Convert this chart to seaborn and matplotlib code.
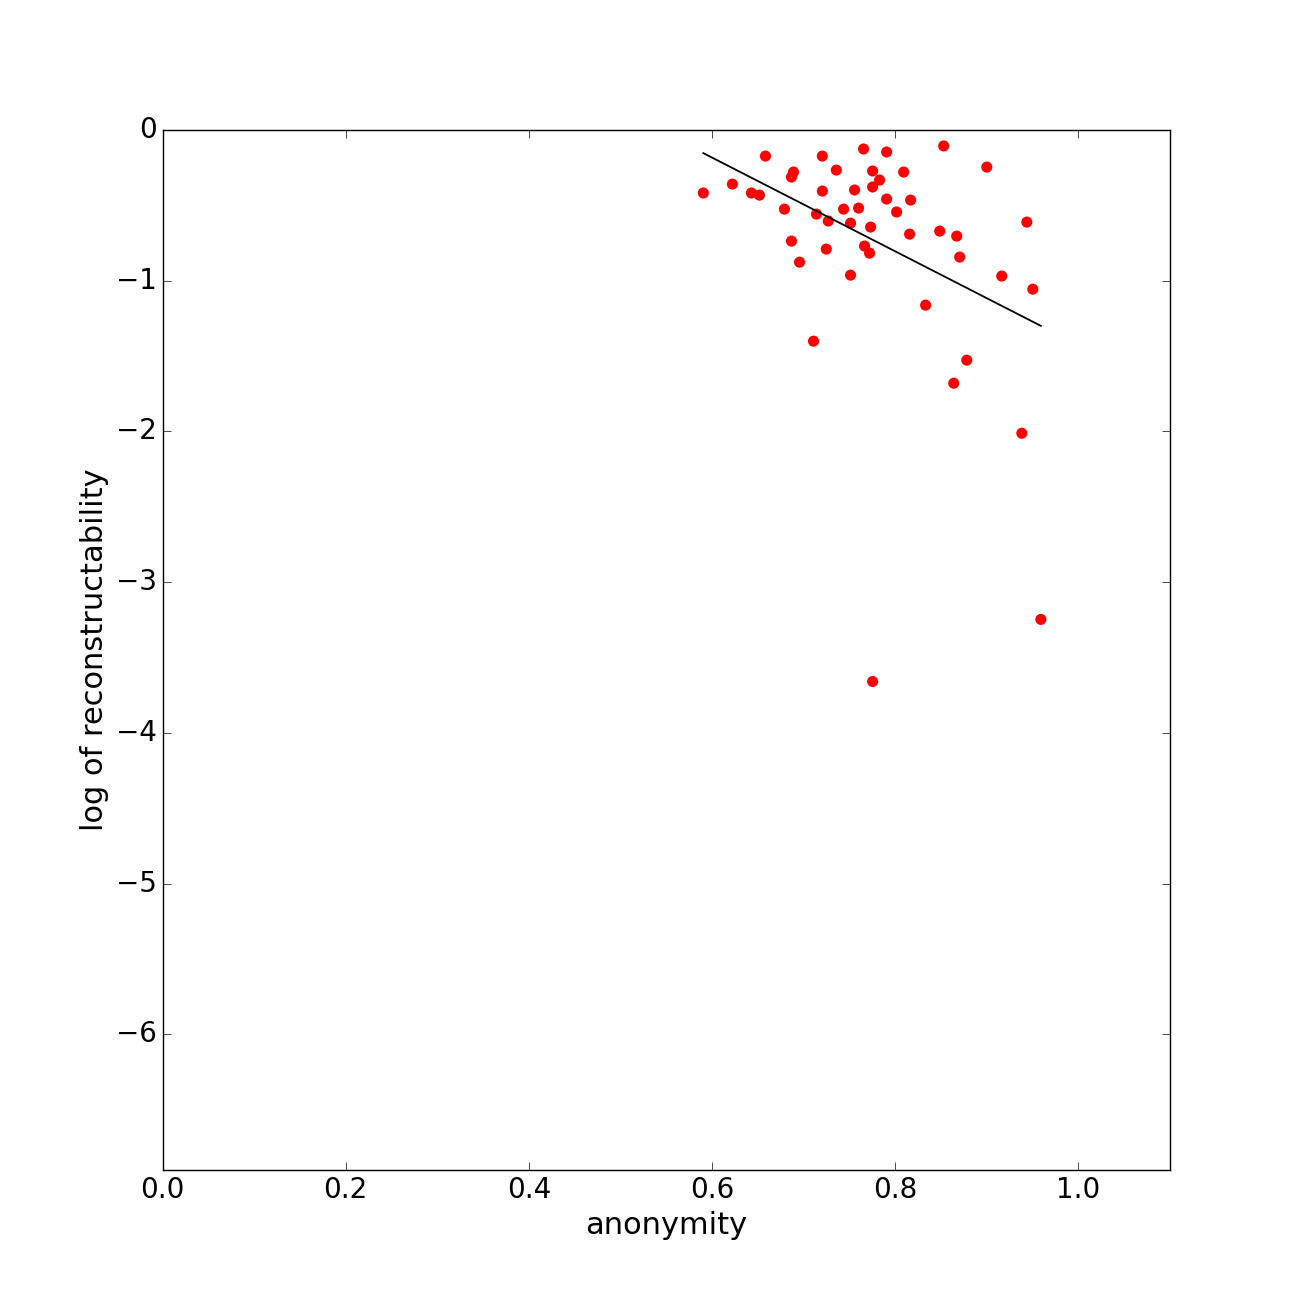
import numpy as np
import pandas as pd
import seaborn as sns
import matplotlib
matplotlib.use('Agg')
import matplotlib.pyplot as plt

# values
anonymity = [0.5905, 0.6222, 0.6430, 0.6517, 0.6583, 0.6790, 0.6867, 0.6889, 0.6867, 0.6955,
             0.7140, 0.7108, 0.7204, 0.7204, 0.7247, 0.7269, 0.7357, 0.7436, 0.7512, 0.7512,
             0.7556, 0.7600, 0.7654, 0.7665, 0.7720, 0.7731, 0.7753, 0.7753, 0.7753, 0.7829,
             0.7906, 0.7906, 0.8015, 0.8092, 0.8157, 0.8168, 0.8332, 0.8486, 0.8529, 0.8639,
             0.8671, 0.8704, 0.8781, 0.9000, 0.9163, 0.9382, 0.9437, 0.9502, 0.9590]
log_recon = [-0.418, -0.359, -0.418, -0.432, -0.173, -0.525, -0.737, -0.279, -0.312, -0.877,
             -0.558, -1.401, -0.173, -0.405, -0.790, -0.604, -0.266, -0.525, -0.618, -0.963,
             -0.398, -0.518, -0.126, -0.770, -0.817, -0.644, -0.272, -0.378, -3.659, -0.332,
             -0.146, -0.458, -0.544, -0.279, -0.691, -0.465, -1.162, -0.671, -0.106, -1.680,
             -0.704, -0.843, -1.527, -0.246, -0.969, -2.012, -0.611, -1.056, -3.247]

# fitted line as drawn in the reference
fit_slope = -3.11
fit_intercept = 1.683

df = pd.DataFrame({'anonymity': anonymity, 'log_recon': log_recon})

plt.style.use('classic')
plt.rcParams['font.family'] = ['DejaVu Sans']
fig = plt.figure(figsize=(13, 13), dpi=100)
ax = fig.add_axes([0.125, 0.1, 0.775, 0.8])
ax.set_facecolor('white')
fig.patch.set_facecolor('white')

sns.scatterplot(x='anonymity', y='log_recon', data=df, color='red', s=64,
                edgecolor='none', linewidth=0, ax=ax)

xs = np.array([df['anonymity'].min(), df['anonymity'].max()])
ax.plot(xs, fit_intercept + fit_slope * xs, color='black', linewidth=1.3)

ax.set_xlim(0, 1.1)
ax.set_ylim(-6.9, 0)
ax.set_xticks([0.0, 0.2, 0.4, 0.6, 0.8, 1.0])
ax.set_yticks([0, -1, -2, -3, -4, -5, -6])
ax.tick_params(labelsize=20, direction='in', top=True, right=True, length=6)
ax.set_xlabel('anonymity', fontsize=22)
ax.set_ylabel('log of reconstructability', fontsize=22)

plt.savefig('out.png', dpi=100, facecolor='white')
